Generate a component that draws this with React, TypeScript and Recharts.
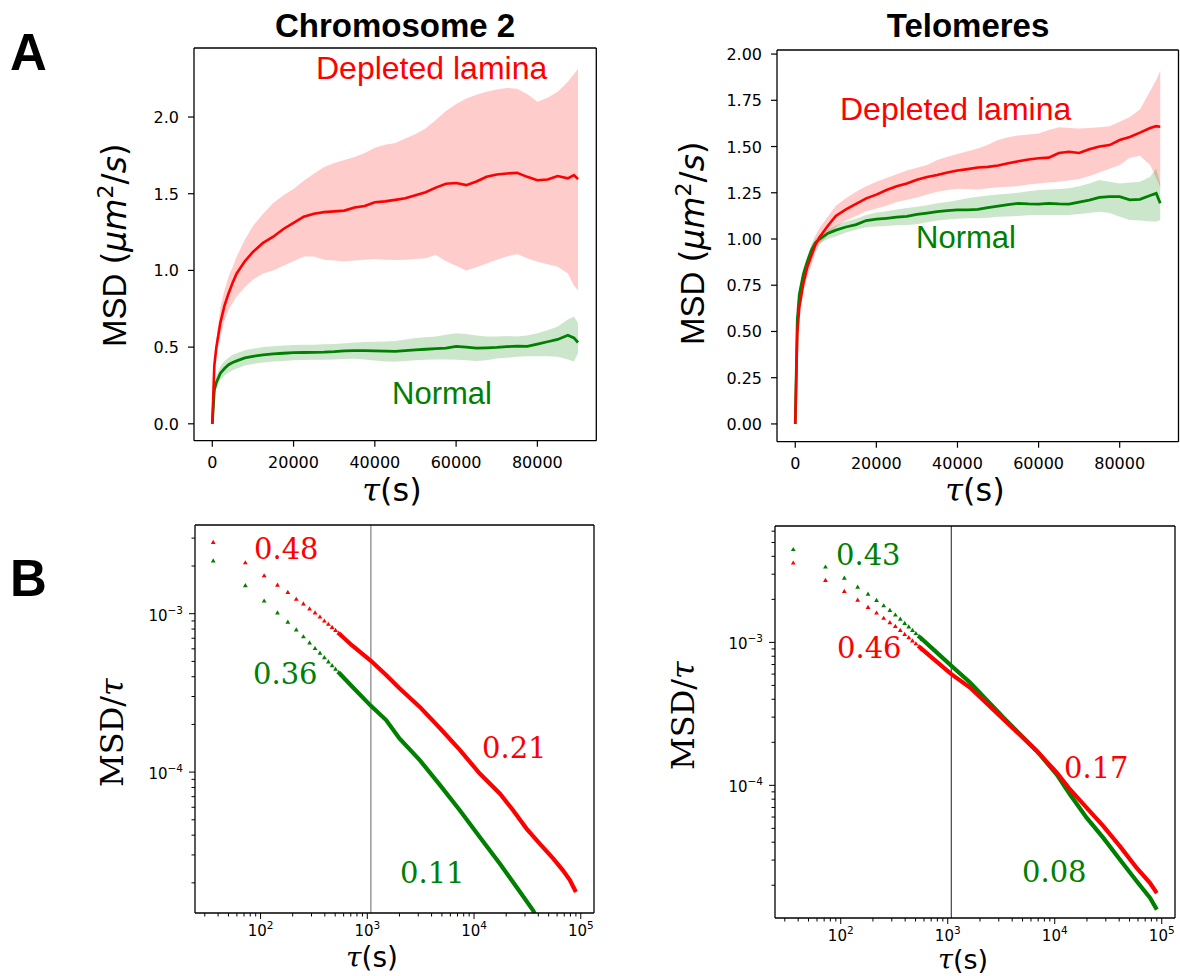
import React from "react";
import {
  Area,
  ComposedChart,
  Line,
  ReferenceLine,
  Scatter,
  XAxis,
  YAxis,
  ZAxis,
} from "recharts";

const RED = "#ff0000";
const GREEN = "#008000";
const SANS = "'Liberation Sans', Arial, sans-serif";
const DJV = "'DejaVu Sans', sans-serif";
const SERIF = "'DejaVu Serif', serif";

// ---------- A: MSD (um^2/s) vs tau (s) ----------
const tauA = [
  0, 500, 1000, 2000, 3000, 4000, 5000, 6000, 8000, 10000, 12500, 15000, 17500, 20000, 22500,
  25000, 27500, 30000, 32500, 35000, 37500, 40000, 42500, 45000, 47500, 50000, 52500, 55000,
  57500, 60000, 62500, 65000, 67500, 70000, 72500, 75000, 77500, 80000, 82500, 85000, 87500,
  89000, 90000,
];

// Chromosome 2
const chr2DeplMean = [
  0, 0.38, 0.5, 0.66, 0.77, 0.85, 0.92, 0.98, 1.06, 1.12, 1.18, 1.22, 1.27, 1.31, 1.35, 1.37,
  1.38, 1.385, 1.39, 1.41, 1.42, 1.445, 1.45, 1.46, 1.47, 1.49, 1.51, 1.54, 1.565, 1.57, 1.556,
  1.58, 1.61, 1.625, 1.632, 1.636, 1.61, 1.588, 1.593, 1.615, 1.6, 1.622, 1.595,
];
const chr2DeplHigh = [
  0, 0.4, 0.55, 0.76, 0.87, 0.96, 1.02, 1.09, 1.2, 1.29, 1.37, 1.44, 1.49, 1.53, 1.585, 1.63,
  1.675, 1.7, 1.72, 1.74, 1.765, 1.8, 1.82, 1.83, 1.86, 1.89, 1.925, 1.98, 2.04, 2.085, 2.12,
  2.145, 2.165, 2.18, 2.19, 2.185, 2.15, 2.1, 2.125, 2.165, 2.23, 2.28, 2.315,
];
const chr2DeplLow = [
  0, 0.34, 0.44, 0.57, 0.67, 0.74, 0.79, 0.83, 0.89, 0.94, 0.98, 1.0, 1.03, 1.06, 1.09, 1.09,
  1.07, 1.065, 1.06, 1.065, 1.07, 1.075, 1.07, 1.068, 1.07, 1.075, 1.08, 1.1, 1.06, 1.03, 1.0,
  1.02, 1.045, 1.07, 1.09, 1.107, 1.08, 1.057, 1.04, 1.024, 0.98, 0.9, 0.87,
];
const chr2NormMean = [
  0, 0.22, 0.27, 0.33, 0.36, 0.385, 0.4, 0.41, 0.43, 0.44, 0.45, 0.456, 0.46, 0.464, 0.465,
  0.466, 0.467, 0.47, 0.475, 0.477, 0.477, 0.476, 0.474, 0.472, 0.477, 0.482, 0.486, 0.49, 0.493,
  0.505, 0.5, 0.493, 0.495, 0.498, 0.503, 0.506, 0.505, 0.52, 0.535, 0.55, 0.578, 0.56, 0.53,
];
const chr2NormHigh = [
  0, 0.25, 0.31, 0.375, 0.41, 0.43, 0.45, 0.46, 0.48, 0.49, 0.5, 0.505, 0.51, 0.514, 0.515,
  0.516, 0.518, 0.52, 0.525, 0.53, 0.533, 0.535, 0.536, 0.54, 0.55, 0.56, 0.565, 0.57, 0.58,
  0.59, 0.585, 0.575, 0.57, 0.57, 0.572, 0.57, 0.575, 0.59, 0.61, 0.635, 0.68, 0.7, 0.655,
];
const chr2NormLow = [
  0, 0.19, 0.23, 0.285, 0.315, 0.335, 0.35, 0.36, 0.38, 0.39, 0.4, 0.407, 0.41, 0.415, 0.416,
  0.417, 0.418, 0.42, 0.423, 0.424, 0.42, 0.412, 0.406, 0.405, 0.41, 0.415, 0.418, 0.42, 0.42,
  0.417, 0.415, 0.41, 0.415, 0.425, 0.43, 0.438, 0.44, 0.44, 0.44, 0.438, 0.42, 0.406, 0.46,
];

// Telomeres
const telDeplMean = [
  0, 0.49, 0.63, 0.76, 0.85, 0.91, 0.97, 1.01, 1.07, 1.125, 1.16, 1.19, 1.22, 1.24, 1.265,
  1.285, 1.3, 1.32, 1.335, 1.346, 1.36, 1.37, 1.378, 1.387, 1.39, 1.397, 1.41, 1.42, 1.43, 1.437,
  1.44, 1.465, 1.472, 1.465, 1.485, 1.5, 1.508, 1.535, 1.552, 1.575, 1.6, 1.61, 1.607,
];
const telDeplHigh = [
  0, 0.51, 0.66, 0.8, 0.9, 0.97, 1.02, 1.06, 1.12, 1.18, 1.22, 1.255, 1.285, 1.31, 1.33, 1.35,
  1.37, 1.385, 1.4, 1.427, 1.445, 1.46, 1.475, 1.49, 1.51, 1.535, 1.55, 1.56, 1.565, 1.571, 1.59,
  1.604, 1.6, 1.598, 1.6, 1.604, 1.61, 1.634, 1.66, 1.7, 1.8, 1.86, 1.91,
];
const telDeplLow = [
  0, 0.47, 0.6, 0.72, 0.8, 0.86, 0.93, 0.97, 1.02, 1.065, 1.1, 1.125, 1.15, 1.165, 1.18, 1.2,
  1.212, 1.225, 1.24, 1.256, 1.265, 1.272, 1.27, 1.268, 1.275, 1.28, 1.283, 1.286, 1.295, 1.3,
  1.305, 1.31, 1.318, 1.325, 1.34, 1.36, 1.38, 1.4, 1.44, 1.45, 1.4, 1.33, 1.28,
];
const telNormMean = [
  0, 0.56, 0.7, 0.81, 0.88, 0.94, 0.98, 1.0, 1.03, 1.048, 1.065, 1.078, 1.1, 1.107, 1.112,
  1.118, 1.122, 1.133, 1.14, 1.148, 1.153, 1.157, 1.158, 1.16, 1.17, 1.178, 1.186, 1.193, 1.19,
  1.189, 1.193, 1.19, 1.189, 1.2, 1.21, 1.225, 1.229, 1.229, 1.212, 1.214, 1.235, 1.247, 1.193,
];
const telNormHigh = [
  0, 0.58, 0.73, 0.84, 0.91, 0.965, 1.0, 1.025, 1.05, 1.073, 1.095, 1.11, 1.13, 1.143, 1.15,
  1.16, 1.167, 1.175, 1.183, 1.193, 1.2, 1.21, 1.22, 1.229, 1.235, 1.24, 1.245, 1.25, 1.258,
  1.265, 1.268, 1.27, 1.274, 1.285, 1.3, 1.319, 1.31, 1.3, 1.305, 1.31, 1.337, 1.38, 1.3,
];
const telNormLow = [
  0, 0.54, 0.67, 0.78, 0.85, 0.91, 0.955, 0.977, 1.0, 1.013, 1.035, 1.05, 1.063, 1.067, 1.07,
  1.074, 1.076, 1.08, 1.09, 1.1, 1.105, 1.11, 1.112, 1.112, 1.115, 1.12, 1.122, 1.125, 1.128,
  1.13, 1.13, 1.13, 1.13, 1.135, 1.14, 1.148, 1.14, 1.12, 1.103, 1.1, 1.094, 1.095, 1.103,
];

const tauTicksA = [0, 20000, 40000, 60000, 80000];
const chr2TicksY = [0, 0.5, 1.0, 1.5, 2.0];
const telTicksY = [0, 0.25, 0.5, 0.75, 1.0, 1.25, 1.5, 1.75, 2.0];

// ---------- B: MSD/tau vs tau (log-log) ----------
// first lags, drawn as separate triangles
const tauEarly = [36, 72, 108, 144, 180, 216, 252, 288, 324, 360, 396, 432, 468, 504, 540, 576];
const chr2DeplEarly = [
  2.81e-3, 2.09e-3, 1.73e-3, 1.51e-3, 1.36e-3, 1.23e-3, 1.15e-3, 1.07e-3, 1.01e-3, 9.5e-4,
  8.97e-4, 8.55e-4, 8.17e-4, 7.82e-4, 7.52e-4, 7.24e-4,
];
const chr2NormEarly = [
  2.15e-3, 1.5e-3, 1.2e-3, 1.01e-3, 8.83e-4, 7.89e-4, 7.13e-4, 6.53e-4, 6.01e-4, 5.62e-4,
  5.26e-4, 4.95e-4, 4.69e-4, 4.46e-4, 4.25e-4, 4.06e-4,
];
const telDeplEarly = [
  3.58e-3, 2.71e-3, 2.27e-3, 1.97e-3, 1.75e-3, 1.6e-3, 1.47e-3, 1.37e-3, 1.29e-3, 1.21e-3,
  1.135e-3, 1.076e-3, 1.021e-3, 9.75e-4, 9.33e-4, 8.95e-4,
];
const telNormEarly = [
  4.45e-3, 3.36e-3, 2.81e-3, 2.43e-3, 2.17e-3, 1.96e-3, 1.8e-3, 1.67e-3, 1.55e-3, 1.45e-3,
  1.355e-3, 1.279e-3, 1.21e-3, 1.151e-3, 1.099e-3, 1.052e-3,
];

// later lags, where the triangles merge into a thick trace
const chr2DeplLateTau = [540, 720, 1080, 1500, 2000, 3100, 4800, 7350, 11300, 17400, 23200, 31000, 41000, 55000, 68000, 79000, 90000];
const chr2DeplLate = [
  7.52e-4, 6.3e-4, 5.04e-4, 4.1e-4, 3.38e-4, 2.58e-4, 1.89e-4, 1.38e-4, 9.8e-5, 7.33e-5, 5.75e-5,
  4.4e-5, 3.55e-5, 2.85e-5, 2.4e-5, 2.08e-5, 1.75e-5,
];
const chr2NormLateTau = [540, 720, 1080, 1500, 2000, 3100, 4800, 7350, 11300, 17400, 25000, 35700, 38400];
const chr2NormLate = [
  4.25e-4, 3.47e-4, 2.62e-4, 2.13e-4, 1.63e-4, 1.19e-4, 8.28e-5, 5.75e-5, 3.9e-5, 2.65e-5,
  1.88e-5, 1.34e-5, 1.22e-5,
];
const telLateTau = [540, 720, 1080, 1614, 3311, 6792, 10450, 13900, 19910, 28440, 40740, 58340, 77800, 90000];
const telDeplLate = [
  9.33e-4, 7.76e-4, 6.0e-4, 4.83e-4, 2.9e-4, 1.74e-4, 1.225e-4, 9.35e-5, 6.95e-5, 5.18e-5,
  3.74e-5, 2.64e-5, 2.07e-5, 1.76e-5,
];
const telNormLate = [
  1.099e-3, 9.04e-4, 6.86e-4, 5.24e-4, 2.98e-4, 1.74e-4, 1.19e-4, 8.63e-5, 5.92e-5, 4.29e-5,
  3.02e-5, 2.13e-5, 1.63e-5, 1.35e-5,
];

const crossoverTau = 1080;
const logMajorX = [100, 1000, 10000, 100000];
const logTicksX = [
  30, 40, 50, 60, 70, 80, 90, 100, 200, 300, 400, 500, 600, 700, 800, 900, 1000, 2000, 3000,
  4000, 5000, 6000, 7000, 8000, 9000, 10000, 20000, 30000, 40000, 50000, 60000, 70000, 80000,
  90000, 100000,
];
const logTicksY = [
  2e-5, 3e-5, 4e-5, 5e-5, 6e-5, 7e-5, 8e-5, 9e-5, 1e-4, 2e-4, 3e-4, 4e-4, 5e-4, 6e-4, 7e-4,
  8e-4, 9e-4, 1e-3, 2e-3, 3e-3, 4e-3, 5e-3, 6e-3,
];

// ---------- helpers ----------
const bandRows = (mean: number[], lo: number[], hi: number[]) =>
  tauA.map((t, i) => ({ t, m: mean[i], band: [lo[i], hi[i]] }));
const pts = (ts: number[], vs: number[]) => ts.map((t, i) => ({ t, v: vs[i] }));

type Box = { left: number; top: number; w: number; h: number };
const PL = 70;
const PR = 6;
const PT = 6;
const PB = 45;
const SPINE = { stroke: "#000", strokeWidth: 1.3 };

const boxA1: Box = { left: 194.3, top: 48.3, w: 402.3, h: 392.7 };
const boxA2: Box = { left: 777.3, top: 50, w: 401.5, h: 391.7 };
const boxB1: Box = { left: 195.3, top: 525, w: 399, h: 388 };
const boxB2: Box = { left: 775, top: 525.7, w: 400, h: 392 };

function LinXTick(props: any) {
  const { x, y, payload } = props;
  return (
    <g>
      <line x1={x} y1={y} x2={x} y2={y + 6} stroke="#000" strokeWidth={1.2} />
      <text x={x} y={y + 27} textAnchor="middle" fontSize={16} fontFamily={DJV} fill="#000">
        {payload.value}
      </text>
    </g>
  );
}

const linYTick = (digits: number) =>
  function LinYTick(props: any) {
    const { x, y, payload } = props;
    return (
      <g>
        <line x1={x - 6} y1={y} x2={x} y2={y} stroke="#000" strokeWidth={1.2} />
        <text x={x - 15} y={y + 6} textAnchor="end" fontSize={16} fontFamily={DJV} fill="#000">
          {Number(payload.value).toFixed(digits)}
        </text>
      </g>
    );
  };

const isDecade = (v: number) => Math.abs(Math.log10(v) - Math.round(Math.log10(v))) < 1e-6;

function LogXTick(props: any) {
  const { x, y, payload } = props;
  const v = payload.value;
  const major = logMajorX.includes(v);
  return (
    <g>
      <line x1={x} y1={y} x2={x} y2={y + (major ? 6 : 3.5)} stroke="#000" strokeWidth={1} />
      {major && (
        <text x={x} y={y + 22.5} textAnchor="middle" fontSize={15} fontFamily={DJV} fill="#000">
          10
          <tspan dy={-7} fontSize={10.5}>
            {Math.round(Math.log10(v))}
          </tspan>
        </text>
      )}
    </g>
  );
}

function LogYTick(props: any) {
  const { x, y, payload } = props;
  const v = payload.value;
  const major = isDecade(v);
  return (
    <g>
      <line x1={x - (major ? 6 : 3.5)} y1={y} x2={x} y2={y} stroke="#000" strokeWidth={1} />
      {major && (
        <text x={x - 12} y={y + 7} textAnchor="end" fontSize={15} fontFamily={DJV} fill="#000">
          10
          <tspan dy={-7} fontSize={10.5}>
            {"\u2212" + Math.abs(Math.round(Math.log10(v)))}
          </tspan>
        </text>
      )}
    </g>
  );
}

function MsdPanel({
  box,
  yDomain,
  yTicks,
  digits,
  depl,
  norm,
}: {
  box: Box;
  yDomain: [number, number];
  yTicks: number[];
  digits: number;
  depl: any[];
  norm: any[];
}) {
  const xDomain: [number, number] = [-4500, 94500];
  return (
    <div style={{ position: "absolute", left: box.left - PL, top: box.top - PT }}>
      <ComposedChart
        width={box.w + PL + PR}
        height={box.h + PT + PB}
        margin={{ top: PT, right: PR, left: 0, bottom: 0 }}
      >
        <XAxis
          dataKey="t"
          type="number"
          domain={xDomain}
          allowDataOverflow
          ticks={tauTicksA}
          interval={0}
          tickSize={0}
          tickMargin={0}
          tickLine={false}
          tick={LinXTick}
          axisLine={SPINE}
          height={PB}
        />
        <YAxis
          type="number"
          domain={yDomain}
          allowDataOverflow
          ticks={yTicks}
          interval={0}
          tickSize={0}
          tickMargin={0}
          tickLine={false}
          tick={linYTick(digits)}
          axisLine={SPINE}
          width={PL}
        />
        <Area data={depl} dataKey="band" type="linear" stroke="none" fill={RED} fillOpacity={0.2} dot={false} activeDot={false} isAnimationActive={false} />
        <Area data={norm} dataKey="band" type="linear" stroke="none" fill={GREEN} fillOpacity={0.2} dot={false} activeDot={false} isAnimationActive={false} />
        <Line data={norm} dataKey="m" type="linear" stroke={GREEN} strokeWidth={2.8} dot={false} activeDot={false} isAnimationActive={false} />
        <Line data={depl} dataKey="m" type="linear" stroke={RED} strokeWidth={2.6} dot={false} activeDot={false} isAnimationActive={false} />
        <ReferenceLine x={xDomain[1]} {...SPINE} />
        <ReferenceLine y={yDomain[1]} {...SPINE} />
      </ComposedChart>
    </div>
  );
}

function RatioPanel({
  box,
  yDomain,
  deplEarly,
  normEarly,
  deplLate,
  normLate,
  guideColor,
}: {
  box: Box;
  yDomain: [number, number];
  deplEarly: any[];
  normEarly: any[];
  deplLate: any[];
  normLate: any[];
  guideColor: string;
}) {
  const xDomain: [number, number] = [24.3, 133000];
  return (
    <div style={{ position: "absolute", left: box.left - PL, top: box.top - PT }}>
      <ComposedChart
        width={box.w + PL + PR}
        height={box.h + PT + PB}
        margin={{ top: PT, right: PR, left: 0, bottom: 0 }}
      >
        <XAxis
          dataKey="t"
          type="number"
          scale="log"
          domain={xDomain}
          allowDataOverflow
          ticks={logTicksX}
          interval={0}
          tickSize={0}
          tickMargin={0}
          tickLine={false}
          tick={LogXTick}
          axisLine={SPINE}
          height={PB}
        />
        <YAxis
          dataKey="v"
          type="number"
          scale="log"
          domain={yDomain}
          allowDataOverflow
          ticks={logTicksY.filter((v) => v >= yDomain[0] && v <= yDomain[1])}
          interval={0}
          tickSize={0}
          tickMargin={0}
          tickLine={false}
          tick={LogYTick}
          axisLine={SPINE}
          width={PL}
        />
        <ZAxis type="number" range={[10, 10]} />
        <ReferenceLine x={crossoverTau} stroke={guideColor} strokeWidth={1.2} />
        <Scatter data={normEarly} dataKey="v" fill={GREEN} shape="triangle" isAnimationActive={false} />
        <Scatter data={deplEarly} dataKey="v" fill={RED} shape="triangle" isAnimationActive={false} />
        <Line data={normLate} dataKey="v" type="linear" stroke={GREEN} strokeWidth={4.2} dot={false} activeDot={false} isAnimationActive={false} />
        <Line data={deplLate} dataKey="v" type="linear" stroke={RED} strokeWidth={4.2} dot={false} activeDot={false} isAnimationActive={false} />
        <ReferenceLine x={xDomain[1]} {...SPINE} />
        <ReferenceLine y={yDomain[1]} {...SPINE} />
      </ComposedChart>
    </div>
  );
}

function TauLabel({ x, y, size }: { x: number; y: number; size: number }) {
  return (
    <text x={x} y={y} textAnchor="middle" fontSize={size} fontFamily={DJV} fill="#000">
      <tspan fontFamily={SERIF} fontStyle="italic">
        τ
      </tspan>
      (s)
    </text>
  );
}

// rotated label, anchored at its lower end
function MsdLabel({ x, y }: { x: number; y: number }) {
  return (
    <text
      transform={`translate(${x},${y}) rotate(-90)`}
      textAnchor="start"
      fontSize={33}
      fontFamily={SANS}
      fill="#000"
    >
      {"MSD "}
      <tspan fontFamily={DJV}>(</tspan>
      <tspan fontFamily={DJV} fontStyle="italic">
        μm
      </tspan>
      <tspan fontFamily={DJV} fontSize={22} dy={-13}>
        2
      </tspan>
      <tspan fontFamily={DJV} dy={13}>
        /
      </tspan>
      <tspan fontFamily={DJV} fontStyle="italic">
        s
      </tspan>
      <tspan fontFamily={DJV}>)</tspan>
    </text>
  );
}

function RatioLabel({ x, y }: { x: number; y: number }) {
  return (
    <text
      transform={`translate(${x},${y}) rotate(-90)`}
      textAnchor="start"
      fontSize={32}
      fontFamily={SERIF}
      fill="#000"
    >
      MSD/<tspan fontStyle="italic">τ</tspan>
    </text>
  );
}

export default function App() {
  return (
    <div
      style={{
        position: "absolute",
        left: 0,
        top: 0,
        width: 1180,
        height: 976,
        overflow: "hidden",
        background: "#fff",
      }}
    >
      <MsdPanel
        box={boxA1}
        yDomain={[-0.11, 2.45]}
        yTicks={chr2TicksY}
        digits={1}
        depl={bandRows(chr2DeplMean, chr2DeplLow, chr2DeplHigh)}
        norm={bandRows(chr2NormMean, chr2NormLow, chr2NormHigh)}
      />
      <MsdPanel
        box={boxA2}
        yDomain={[-0.096, 2.022]}
        yTicks={telTicksY}
        digits={2}
        depl={bandRows(telDeplMean, telDeplLow, telDeplHigh)}
        norm={bandRows(telNormMean, telNormLow, telNormHigh)}
      />
      <RatioPanel
        box={boxB1}
        yDomain={[1.29e-5, 3.63e-3]}
        deplEarly={pts(tauEarly, chr2DeplEarly)}
        normEarly={pts(tauEarly, chr2NormEarly)}
        deplLate={pts(chr2DeplLateTau, chr2DeplLate)}
        normLate={pts(chr2NormLateTau, chr2NormLate)}
        guideColor="#808080"
      />
      <RatioPanel
        box={boxB2}
        yDomain={[1.18e-5, 6.52e-3]}
        deplEarly={pts(tauEarly, telDeplEarly)}
        normEarly={pts(tauEarly, telNormEarly)}
        deplLate={pts(telLateTau, telDeplLate)}
        normLate={pts(telLateTau, telNormLate)}
        guideColor="#444"
      />

      <svg
        width={1180}
        height={976}
        style={{ position: "absolute", left: 0, top: 0, pointerEvents: "none" }}
      >
        <text x={10} y={70} fontSize={51} fontWeight="bold" fontFamily={SANS}>
          A
        </text>
        <text x={10} y={596} fontSize={51} fontWeight="bold" fontFamily={SANS}>
          B
        </text>
        <text x={395} y={37} textAnchor="middle" fontSize={33} fontWeight="bold" fontFamily={SANS}>
          Chromosome 2
        </text>
        <text x={968} y={37} textAnchor="middle" fontSize={33} fontWeight="bold" fontFamily={SANS}>
          Telomeres
        </text>

        <text x={316} y={79} fontSize={32} fontFamily={SANS} fill={RED}>
          Depleted lamina
        </text>
        <text x={392} y={404} fontSize={31} fontFamily={SANS} fill={GREEN}>
          Normal
        </text>
        <text x={840} y={120} fontSize={32} fontFamily={SANS} fill={RED}>
          Depleted lamina
        </text>
        <text x={916} y={248} fontSize={31} fontFamily={SANS} fill={GREEN}>
          Normal
        </text>

        <g fontSize={29} fontFamily={SERIF}>
          <text x={254} y={559} fill={RED}>0.48</text>
          <text x={253} y={684} fill={GREEN}>0.36</text>
          <text x={482} y={758} fill={RED}>0.21</text>
          <text x={400} y={883} fill={GREEN}>0.11</text>
          <text x={836} y={565} fill={GREEN}>0.43</text>
          <text x={837} y={658} fill={RED}>0.46</text>
          <text x={1064} y={778} fill={RED}>0.17</text>
          <text x={1022} y={882} fill={GREEN}>0.08</text>
        </g>

        <MsdLabel x={126} y={347} />
        <MsdLabel x={704} y={345} />
        <RatioLabel x={123} y={787} />
        <RatioLabel x={694} y={770} />

        <TauLabel x={392} y={501} size={32} />
        <TauLabel x={975} y={501} size={32} />
        <TauLabel x={372} y={967} size={28} />
        <TauLabel x={963} y={969} size={27} />
      </svg>
    </div>
  );
}
